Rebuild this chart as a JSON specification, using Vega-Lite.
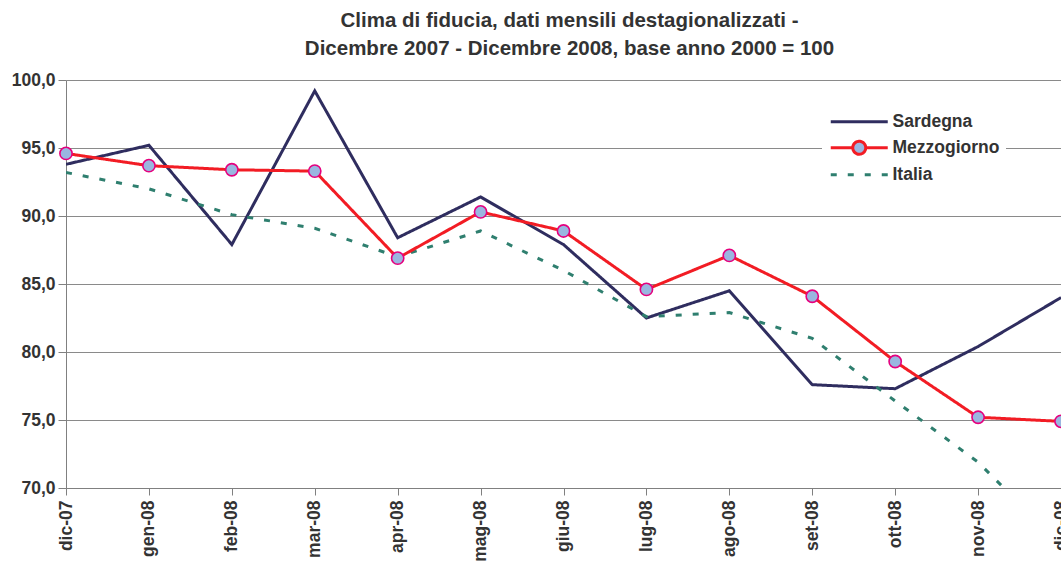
{
  "$schema": "https://vega.github.io/schema/vega-lite/v6.json",
  "width": 995,
  "height": 408,
  "autosize": {"type": "none"},
  "padding": {"left": 66, "top": 80, "right": 0, "bottom": 80},
  "background": "white",
  "title": {
    "text": ["Clima di fiducia, dati mensili destagionalizzati -", "Dicembre 2007 - Dicembre 2008, base anno 2000 = 100"],
    "font": "Liberation Sans",
    "fontSize": 20.5,
    "fontWeight": "bold",
    "color": "#333333",
    "lineHeight": 28,
    "anchor": "middle",
    "dx": 6,
    "offset": 12
  },
  "config": {
    "view": {"stroke": null},
    "axis": {
      "labelFont": "Liberation Sans",
      "labelFontWeight": "bold",
      "labelFontSize": 17.5,
      "labelColor": "#333333",
      "domainColor": "#808080",
      "tickColor": "#808080",
      "gridColor": "#8a8a8a",
      "gridWidth": 1,
      "title": null
    },
    "legend": {
      "labelFont": "Liberation Sans",
      "labelFontWeight": "bold",
      "labelFontSize": 17.5,
      "labelColor": "#333333"
    }
  },
  "data": {
    "values": [
      {"mese": "dic-07", "serie": "Sardegna", "valore": 93.8},
      {"mese": "gen-08", "serie": "Sardegna", "valore": 95.2},
      {"mese": "feb-08", "serie": "Sardegna", "valore": 87.9},
      {"mese": "mar-08", "serie": "Sardegna", "valore": 99.2},
      {"mese": "apr-08", "serie": "Sardegna", "valore": 88.4},
      {"mese": "mag-08", "serie": "Sardegna", "valore": 91.4},
      {"mese": "giu-08", "serie": "Sardegna", "valore": 87.9},
      {"mese": "lug-08", "serie": "Sardegna", "valore": 82.5},
      {"mese": "ago-08", "serie": "Sardegna", "valore": 84.5},
      {"mese": "set-08", "serie": "Sardegna", "valore": 77.6},
      {"mese": "ott-08", "serie": "Sardegna", "valore": 77.3},
      {"mese": "nov-08", "serie": "Sardegna", "valore": 80.4},
      {"mese": "dic-08", "serie": "Sardegna", "valore": 84.0},
      {"mese": "dic-07", "serie": "Italia", "valore": 93.2},
      {"mese": "gen-08", "serie": "Italia", "valore": 92.0},
      {"mese": "feb-08", "serie": "Italia", "valore": 90.1},
      {"mese": "mar-08", "serie": "Italia", "valore": 89.1},
      {"mese": "apr-08", "serie": "Italia", "valore": 87.0},
      {"mese": "mag-08", "serie": "Italia", "valore": 88.9},
      {"mese": "giu-08", "serie": "Italia", "valore": 86.0},
      {"mese": "lug-08", "serie": "Italia", "valore": 82.6},
      {"mese": "ago-08", "serie": "Italia", "valore": 82.9},
      {"mese": "set-08", "serie": "Italia", "valore": 81.0},
      {"mese": "ott-08", "serie": "Italia", "valore": 76.4},
      {"mese": "nov-08", "serie": "Italia", "valore": 71.9},
      {"mese": "dic-08", "serie": "Italia", "valore": 65.8},
      {"mese": "dic-07", "serie": "Mezzogiorno", "valore": 94.6},
      {"mese": "gen-08", "serie": "Mezzogiorno", "valore": 93.7},
      {"mese": "feb-08", "serie": "Mezzogiorno", "valore": 93.4},
      {"mese": "mar-08", "serie": "Mezzogiorno", "valore": 93.3},
      {"mese": "apr-08", "serie": "Mezzogiorno", "valore": 86.9},
      {"mese": "mag-08", "serie": "Mezzogiorno", "valore": 90.3},
      {"mese": "giu-08", "serie": "Mezzogiorno", "valore": 88.9},
      {"mese": "lug-08", "serie": "Mezzogiorno", "valore": 84.6},
      {"mese": "ago-08", "serie": "Mezzogiorno", "valore": 87.1},
      {"mese": "set-08", "serie": "Mezzogiorno", "valore": 84.1},
      {"mese": "ott-08", "serie": "Mezzogiorno", "valore": 79.3},
      {"mese": "nov-08", "serie": "Mezzogiorno", "valore": 75.2},
      {"mese": "dic-08", "serie": "Mezzogiorno", "valore": 74.9}
    ]
  },
  "encoding": {
    "x": {
      "field": "mese",
      "type": "ordinal",
      "sort": ["dic-07", "gen-08", "feb-08", "mar-08", "apr-08", "mag-08", "giu-08", "lug-08", "ago-08", "set-08", "ott-08", "nov-08", "dic-08"],
      "scale": {"type": "point", "padding": 0},
      "axis": {
        "labelAngle": 270,
        "labelAlign": "right",
        "labelBaseline": "middle",
        "labelPadding": 5,
        "tickSize": 7,
        "grid": false,
        "labelOverlap": false,
        "labelBound": false
      }
    },
    "y": {
      "field": "valore",
      "type": "quantitative",
      "scale": {"domain": [70, 100], "nice": false, "zero": false},
      "axis": {
        "values": [70, 75, 80, 85, 90, 95, 100],
        "labelExpr": "replace(format(datum.value, '.1f'), '.', ',')",
        "tickSize": 8,
        "labelPadding": 3,
        "grid": true
      }
    }
  },
  "layer": [
    {
      "mark": {"type": "line", "strokeWidth": 3, "clip": true},
      "encoding": {
        "color": {
          "field": "serie",
          "type": "nominal",
          "scale": {"domain": ["Sardegna", "Mezzogiorno", "Italia"], "range": ["#2f2d5f", "#f21c24", "#2f7f6f"]},
          "legend": {
            "title": null,
            "orient": "none",
            "legendX": 756,
            "legendY": 27,
            "fillColor": "white",
            "padding": 6,
            "symbolSize": 144,
            "symbolStrokeWidth": 3,
            "rowPadding": 4,
            "labelOffset": 47,
            "encode": {
              "symbols": {
                "update": {
                  "shape": {"signal": "datum.value === 'Mezzogiorno' ? 'M-1,0L2.67,0M4.83,0L8.5,0M4.83,0A1.08,1.08 0 1,1 2.67,0A1.08,1.08 0 1,1 4.83,0Z' : 'M-1,0L8.5,0'"},
                  "fill": {"signal": "datum.value === 'Mezzogiorno' ? '#9ab6e0' : 'transparent'"}
                }
              }
            }
          }
        },
        "strokeDash": {
          "field": "serie",
          "type": "nominal",
          "scale": {"domain": ["Sardegna", "Mezzogiorno", "Italia"], "range": [[1, 0], [1, 0], [6, 11]]},
          "legend": null
        }
      }
    },
    {
      "transform": [{"filter": "datum.serie === 'Mezzogiorno'"}],
      "mark": {"type": "point", "filled": false, "fill": "#9ab6e0", "stroke": "#e5007e", "strokeWidth": 1.6, "size": 150, "opacity": 1, "fillOpacity": 1}
    }
  ]
}
